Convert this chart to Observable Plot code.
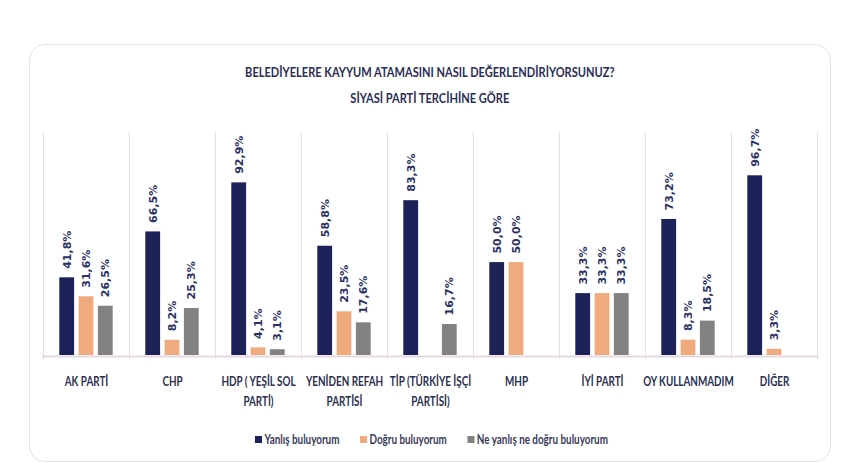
<!DOCTYPE html>
<html>
<head>
<meta charset="utf-8">
<script src="https://cdn.jsdelivr.net/npm/d3@7"></script>
<script src="https://cdn.jsdelivr.net/npm/@observablehq/plot@0.6"></script>
<style>
  html, body { margin: 0; padding: 0; background: #ffffff; }
  body { width: 859px; height: 465px; position: relative; overflow: hidden;
         font-family: Lato, "Open Sans", sans-serif; }
  #card { position: absolute; left: 29px; top: 44px; width: 800px; height: 416px;
          border: 1.5px solid #e4e1e4; border-radius: 16px; background: #fff; }
  #title { position: absolute; left: 0; top: 59px; width: 859px; text-align: center; }
  #title span { display: inline-block; transform: scaleX(0.79); transform-origin: 50% 50%;
           font-weight: bold; font-size: 14px; line-height: 26px; color: #2a2d55; white-space: nowrap; }
  #chart { position: absolute; left: 0; top: 110px; }
  #legendwrap { position: absolute; left: 0; top: 427px; width: 859px; text-align: center; }
  #legend { display: inline-flex; transform: scaleX(0.79); transform-origin: 50% 50%;
            gap: 26px; font-weight: bold; font-size: 12.5px; margin-left: 4px;
            line-height: 18px; color: #383a5a; white-space: nowrap; }
  #legend span.item { display: flex; align-items: center; gap: 3px; }
  #legend i { display: inline-block; width: 9px; height: 7px; }
</style>
</head>
<body>
<div id="card"></div>
<div id="title"><span>BELEDİYELERE KAYYUM ATAMASINI NASIL DEĞERLENDİRİYORSUNUZ?<br>SİYASİ PARTİ TERCİHİNE GÖRE</span></div>
<div id="chart"></div>
<div id="legendwrap"><div id="legend"></div></div>
<script>
const parties = ["AK PARTİ", "CHP", "HDP ( YEŞİL SOL\nPARTİ)", "YENİDEN REFAH\nPARTİSİ",
  "TİP (TÜRKİYE İŞÇİ\nPARTİSİ)", "MHP", "İYİ PARTİ", "OY KULLANMADIM", "DİĞER"];
const seriesNames = ["Yanlış buluyorum", "Doğru buluyorum", "Ne yanlış ne doğru buluyorum"];
const yanlis  = [41.8, 66.5, 92.9, 58.8, 83.3, 50.0, 33.3, 73.2, 96.7];
const dogru   = [31.6, 8.2, 4.1, 23.5, null, 50.0, 33.3, 8.3, 3.3];
const neither = [26.5, 25.3, 3.1, 17.6, 16.7, null, 33.3, 18.5, null];
const colors = ["#1c2158", "#efab7e", "#828282"];

const seriesValues = [yanlis, dogru, neither];
const offsets = [-19.3, 0, 19.3];

const fmt = v => v.toFixed(1).replace(".", ",") + "%";

const marks = [];
// group separators
marks.push(Plot.ruleX(parties, {x: d => d, y1: 120, y2: 0, dx: -43.1, stroke: "#e3dde1", strokeWidth: 1, insetBottom: -4}));
marks.push(Plot.ruleX(parties.slice(-1), {x: d => d, y1: 120, y2: 0, dx: 43.1, stroke: "#e3dde1", strokeWidth: 1, insetBottom: -4}));
// baseline
marks.push(Plot.ruleY([0], {stroke: "#e6d8e0", strokeWidth: 2, dy: 1}));

seriesValues.forEach((vals, i) => {
  const data = parties.map((p, j) => ({party: p, value: vals[j]})).filter(d => d.value != null);
  marks.push(Plot.barY(data, {x: "party", y: "value", fill: colors[i], dx: offsets[i], insetLeft: 35.6, insetRight: 35.6}));
  marks.push(Plot.text(data, {x: "party", y: "value", text: d => fmt(d.value), rotate: -90,
    textAnchor: "start", lineAnchor: "middle", dx: offsets[i], dy: -9,
    fill: "#2b3163", fontWeight: "bold", fontSize: 11, fontFamily: "DejaVu Sans"}));
});

// category labels
marks.push(Plot.text(parties, {x: d => d, y: 0, text: d => d, lineAnchor: "top", dy: 17,
  lineHeight: 1.55, fill: "#2c2f4f", fontWeight: "bold", fontSize: 12.5,
  fontFamily: "Lato, Open Sans, sans-serif"}));

const chart = Plot.plot({
  width: 859,
  height: 300,
  marginLeft: 42,
  marginRight: 41,
  marginTop: 22,
  marginBottom: 55,
  x: {domain: parties, padding: 0, axis: null},
  y: {domain: [0, 120], axis: null},
  style: {background: "transparent", overflow: "visible"},
  marks
});
// condense category labels horizontally (narrow face look)
chart.querySelectorAll('g[font-family^="Lato"] text').forEach(t => {
  const tr = t.getAttribute("transform") || "";
  t.setAttribute("transform", tr + " scale(0.79,1)");
});
document.getElementById("chart").appendChild(chart);

const legend = document.getElementById("legend");
seriesNames.forEach((name, i) => {
  const s = document.createElement("span");
  s.className = "item";
  const sw = document.createElement("i");
  sw.style.background = colors[i];
  s.appendChild(sw);
  s.appendChild(document.createTextNode(name));
  legend.appendChild(s);
});
</script>
</body>
</html>
